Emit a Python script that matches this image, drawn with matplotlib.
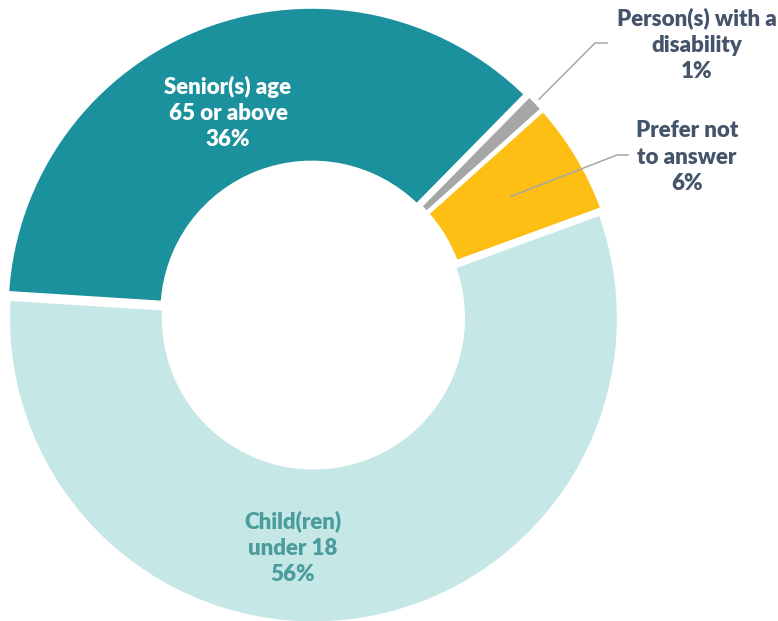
import numpy as np
import matplotlib
matplotlib.use("Agg")
from matplotlib import pyplot as plt

# data
labels = ["Senior(s) age\n65 or above", "Person(s) with a\ndisability",
          "Prefer not\nto answer", "Child(ren)\nunder 18"]
values = [36, 1, 6, 56]
colors = ["#1A919D", "#A6A6A6", "#FDBF14", "#C5E7E6"]

plt.rcParams['font.family'] = ['Lato', 'DejaVu Sans']

fig = plt.figure(figsize=(7.78, 6.21), dpi=100)
ax = fig.add_axes([0, 0, 1, 1])

cx, cy = 313, 621 - 315
R = 305.5
wedges, _ = ax.pie(values, colors=colors, startangle=176.4, counterclock=False,
                   center=(cx, cy), radius=R, explode=[3, 3, 3, 3],
                   wedgeprops=dict(width=156, edgecolor='white', linewidth=3),
                   frame=True)
ax.set_xlim(0, 778)
ax.set_ylim(0, 621)
ax.set_aspect('equal')
ax.axis('off')

dark = "#44546A"
fs = 16
fw = 'heavy'
ls = 1.32
pct = ["%d%%" % v for v in values]

# inside labels
ax.text(228, 621 - 113, labels[0] + "\n" + pct[0], ha='center', va='center',
        color='white', fontsize=fs, fontweight=fw, linespacing=ls)
ax.text(293, 621 - 548, labels[3] + "\n" + pct[3], ha='center', va='center',
        color='#4B9C9C', fontsize=fs, fontweight=fw, linespacing=ls)

# outside labels with leader lines
ax.text(697, 621 - 45, labels[1] + "\n" + pct[1], ha='center', va='center',
        color=dark, fontsize=fs, fontweight=fw, linespacing=ls)
ax.text(687, 621 - 157, labels[2] + "\n" + pct[2], ha='center', va='center',
        color=dark, fontsize=fs, fontweight=fw, linespacing=ls)

def mid_point(w, r):
    a = np.deg2rad((w.theta1 + w.theta2) / 2)
    x0, y0 = w.center
    return x0 + r * np.cos(a), y0 + r * np.sin(a)

x1, y1 = mid_point(wedges[1], R + 4)
ax.plot([x1, 595, 607], [y1, 621 - 43, 621 - 43], color='#A6A6A6', lw=1.1)
x2, y2 = mid_point(wedges[2], R - 78)
ax.plot([x2, 617, 628], [y2, 621 - 155, 621 - 155], color='#A6A6A6', lw=1.1)

fig.savefig("out.png", dpi=100)
